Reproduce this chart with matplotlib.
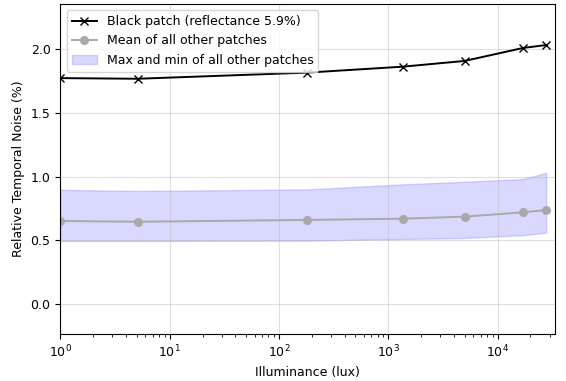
import matplotlib
matplotlib.use("Agg")
import matplotlib.pyplot as plt
import numpy as np

# === Data ===
illuminance = [1, 5.1, 179, 1360, 4990, 17100, 27800]
black_patch = [1.775, 1.770, 1.818, 1.865, 1.910, 2.012, 2.035]
mean_others = [0.652, 0.646, 0.660, 0.670, 0.686, 0.720, 0.738]
max_others = [0.897, 0.888, 0.900, 0.940, 0.960, 0.982, 1.030]
min_others = [0.494, 0.494, 0.497, 0.510, 0.518, 0.540, 0.560]

plt.rcParams['font.size'] = 9

# === Plot ===
fig = plt.figure(figsize=(5.66, 3.81), dpi=100)
ax = fig.add_axes([0.1065, 0.1226, 0.874, 0.867])

ax.plot(illuminance, black_patch, 'k-x', lw=1.4, ms=6, label='Black patch (reflectance 5.9%)')
ax.plot(illuminance, mean_others, '-o', color='darkgray', lw=1.4, ms=5.5,
        label='Mean of all other patches')
ax.fill_between(illuminance, min_others, max_others, color='blue', alpha=0.15,
                label='Max and min of all other patches')

ax.set_xscale('log')
ax.set_xlim(1, 3.35e4)
ax.set_ylim(-0.239, 2.358)
ax.set_xlabel("Illuminance (lux)")
ax.set_ylabel("Relative Temporal Noise (%)")
ax.grid(True, alpha=0.4)
ax.legend(loc='upper left')

fig.savefig("out.png", dpi=100)
